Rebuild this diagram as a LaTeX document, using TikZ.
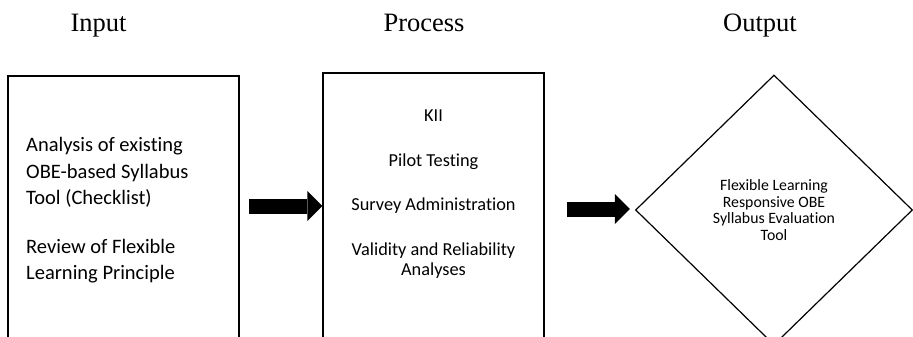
\documentclass[tikz,border=0pt]{standalone}
\usepackage{fontspec}
\setmainfont{Carlito}[Ligatures=NoCommon]
\newfontfamily\titlefont{Liberation Serif}
\usetikzlibrary{shapes.geometric, arrows.meta, calc}

\begin{document}
\begin{tikzpicture}[x=1pt, y=-1pt,
  heading/.style={font=\titlefont\fontsize{26.5}{30}\selectfont, anchor=base, inner sep=0pt},
  stagebox/.style={draw, line width=1.2pt, rectangle, inner sep=0pt},
  bodytext/.style={inner sep=0pt},
  blockarrow/.style={line width=15pt, line cap=butt,
    -{Triangle[length=15pt, width=30pt, line width=0pt]}},
]
\useasboundingbox (0,0) rectangle (913,337);
\clip (0,0) rectangle (913,337);

% column headings
\node[heading] (hin)   at (98.5,32) {Input};
\node[heading] (hproc) at (424,32)  {Process};
\node[heading] (hout)  at (760,32)  {Output};

% input stage
\node[stagebox, minimum width=231pt, minimum height=290pt] (inbox) at (123.5,221) {};
\node[bodytext, align=left, anchor=north west,
      font=\fontsize{20.5}{26.7}\selectfont] (intext) at (26,137)
  {Analysis of existing\\OBE-based Syllabus\\Tool (Checklist)\\[21.6pt]Review of Flexible\\Learning Principle};

% process stage
\node[stagebox, minimum width=221pt, minimum height=290pt] (procbox) at (433.5,218) {};
\node[bodytext, align=center, anchor=north,
      font=\fontsize{18.3}{20}\selectfont] (proctext) at (433.5,110)
  {KII\\[24.5pt]Pilot Testing\\[24.5pt]Survey Administration\\[24.5pt]Validity and Reliability\\Analyses};

% output stage
\node[draw, diamond, line width=1.2pt, inner sep=0pt, align=center,
      minimum width=277pt, minimum height=270pt,
      font=\fontsize{15.8}{16.7}\selectfont] (outdia) at (774,210)
  {Flexible Learning\\Responsive OBE\\Syllabus Evaluation\\Tool};

% block arrows between the stages
\coordinate (a1) at (249,206);
\coordinate (a2) at (567,209);
\draw[blockarrow] (a1) -- (a1 -| procbox.west);
\draw[blockarrow] (a2) -- ($(a2 -| outdia.west)+(-5,0)$);
\end{tikzpicture}
\end{document}
